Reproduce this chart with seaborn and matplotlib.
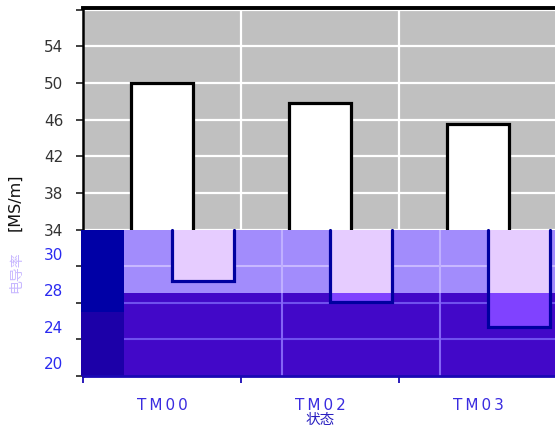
import numpy as np
import matplotlib
matplotlib.use("Agg")
import matplotlib.pyplot as plt
from matplotlib.patches import Rectangle
import seaborn as sns

# chart values
states = ["TM00", "TM02", "TM03"]
conductivity = [50.0, 47.8, 45.5]          # white bars, MS/m
ghost_bottom = [28.4, 26.1, 23.4]          # lower ends of the shifted "ghost" bars
ytick_values = [18, 22, 26, 30, 34, 38, 42, 46, 50, 54, 58]
ytick_labels = ["20", "24", "28", "30", "34", "38", "42", "46", "50", "54", ""]

sns.set_style("white")
plt.rcParams["font.family"] = ["DejaVu Sans", "Noto Sans CJK SC"]

fig = plt.figure(figsize=(5.55, 4.32), dpi=100)
ax = fig.add_axes([83 / 555, 56 / 432, 474 / 555, 368 / 432])
ax.set_facecolor("#c0c0c0")

sns.barplot(x=states, y=conductivity, color="white", saturation=1,
            edgecolor="black", linewidth=2.3, width=0.39, ax=ax, zorder=2)

ax.set_xlim(-0.5, 2.5)
ax.set_ylim(18, 58.2)

# grid
ax.set_yticks(ytick_values)
ax.set_xticks([-0.5, 0.5, 1.5, 2.5], minor=True)
ax.grid(axis="y", which="major", color="white", lw=1.6, zorder=0)
ax.grid(axis="x", which="minor", color="white", lw=1.6, zorder=0)
ax.grid(axis="x", which="major", visible=False)
ax.set_axisbelow(True)

# the tinted lower band (glitch in the reference), shifted right
shift = 0.26
split = 27.1
navy = "#0000a6"
ax.axhspan(split, 34, color="#a28cfc", lw=0, zorder=3)
ax.axhspan(18, split, color="#4208c8", lw=0, zorder=3)
ax.add_patch(Rectangle((-0.51, 25.0), 0.01 + shift, 9.0, color=navy, lw=0,
                       zorder=3.2, clip_on=False))
ax.add_patch(Rectangle((-0.51, 18), 0.01 + shift, 7.0, color="#1c00a8", lw=0,
                       zorder=3.2, clip_on=False))
ax.hlines([30], -0.5 + shift, 2.5, color="#c8b8ff", lw=1.5, zorder=3.3)
ax.hlines([26, 22], -0.5 + shift, 2.5, color="#7050ee", lw=1.5, zorder=3.3)
ax.vlines([0.5 + shift, 1.5 + shift], split, 34, color="#c0b0ff", lw=1.5, zorder=3.3)
ax.vlines([0.5 + shift, 1.5 + shift], 18, split, color="#8464f6", lw=1.5, zorder=3.3)

xg = np.arange(len(states)) + shift
gb = np.array(ghost_bottom)
ax.bar(xg, gb - 34, bottom=34, width=0.39, color="#e6ccff", lw=0, zorder=4)
low = np.minimum(gb, split)
ax.bar(xg, low - split, bottom=split, width=0.39, color="#8042ff", lw=0, zorder=4.1)
for x, b in zip(xg, gb):
    ax.plot([x - 0.195, x - 0.195, x + 0.195, x + 0.195], [34, b, b, 34],
            color="#0000a0", lw=2.3, zorder=5, solid_joinstyle="miter")

# spines
ax.spines["right"].set_visible(False)
ax.spines["top"].set_color("black")
ax.spines["top"].set_linewidth(2.8)
ax.spines["left"].set_color("black")
ax.spines["left"].set_linewidth(1.8)
ax.spines["bottom"].set_color("#1a08b4")
ax.spines["bottom"].set_linewidth(2.0)
ax.spines["bottom"].set_zorder(6)

# y ticks: upper labels as tick labels, lower (blue) labels nudged up like the reference
ax.tick_params(axis="y", which="major", direction="out", length=5, width=1.3,
               pad=9, labelsize=11, colors="#333333", left=True)
upper = [l if v >= 34 else "" for v, l in zip(ytick_values, ytick_labels)]
ax.set_yticklabels(upper)
for t, v in zip(ax.yaxis.get_major_ticks(), ytick_values):
    if v < 34:
        t.tick1line.set_color("#1a08b4")
for v, l in zip(ytick_values, ytick_labels):
    if v < 34:
        ax.annotate(l, xy=(0, v), xycoords=("axes fraction", "data"),
                    xytext=(-14, 8), textcoords="offset points",
                    ha="right", va="center", fontsize=11, color="#2a2af0")

# x ticks
ax.set_xticks(range(len(states)))
ax.set_xticklabels(["\u2009".join(s) for s in states])
ax.tick_params(axis="x", which="major", length=0, pad=16, labelsize=11,
               labelcolor="#3a2ce0")
ax.tick_params(axis="x", which="minor", direction="out", length=5, width=1.3,
               color="#1a08b4", bottom=True)
ax.set_xlabel("状态", fontsize=10.5, color="#2a20c0", labelpad=0,
              family=["Noto Sans CJK SC", "DejaVu Sans"])
ax.set_ylabel("")

fig.text(15 / 555, 1 - 202 / 432, "[MS/m]", rotation=90, ha="center", va="center",
         fontsize=11.5, color="#111111")
fig.text(16 / 555, 1 - 272 / 432, "电导率", rotation=90, ha="center", va="center",
         fontsize=10, color="#c8b8ff", family=["Noto Sans CJK SC", "DejaVu Sans"])

fig.savefig("out.png", dpi=100)
